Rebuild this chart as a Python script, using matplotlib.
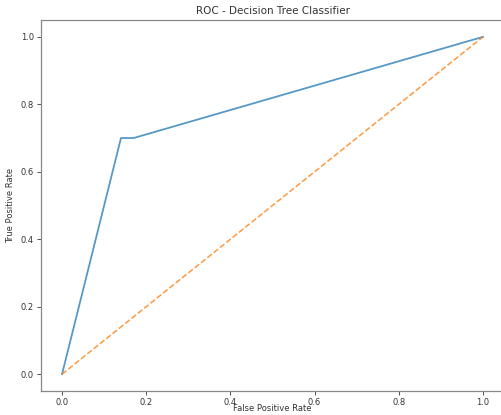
import matplotlib
matplotlib.use("Agg")
import matplotlib.pyplot as plt

fpr = [0.0, 0.14, 0.17, 1.0]
tpr = [0.0, 0.70, 0.70, 1.0]
diag_x = [0.0, 1.0]
diag_y = [0.0, 1.0]

fig = plt.figure(figsize=(5.01, 4.15), dpi=100)
W, H = 501, 415
ax = fig.add_axes([41 / W, 1 - 391 / H, (504 - 41) / W, (391 - 20) / H])
ax.plot(fpr, tpr, color="#1f77b4", lw=1.3, alpha=0.75)
ax.plot(diag_x, diag_y, color="#ff7f0e", lw=1.1, ls="--", alpha=0.8)
ax.set_xlim(-0.05, 1.05)
ax.set_ylim(-0.05, 1.05)
ax.set_xticks([0.0, 0.2, 0.4, 0.6, 0.8, 1.0])
ax.set_yticks([0.0, 0.2, 0.4, 0.6, 0.8, 1.0])
ax.tick_params(labelsize=6, colors="#333333", length=3, width=0.6, pad=2)
for s in ax.spines.values():
    s.set_color("#888888")
    s.set_linewidth(0.9)
ax.set_title("ROC - Decision Tree Classifier", fontsize=7.5, color="#333333", pad=4)
ax.set_xlabel("False Positive Rate", fontsize=6, color="#333333", labelpad=-2)
ax.set_ylabel("True Positive Rate", fontsize=6, color="#333333", labelpad=4)
fig.savefig("out.png", dpi=100)
